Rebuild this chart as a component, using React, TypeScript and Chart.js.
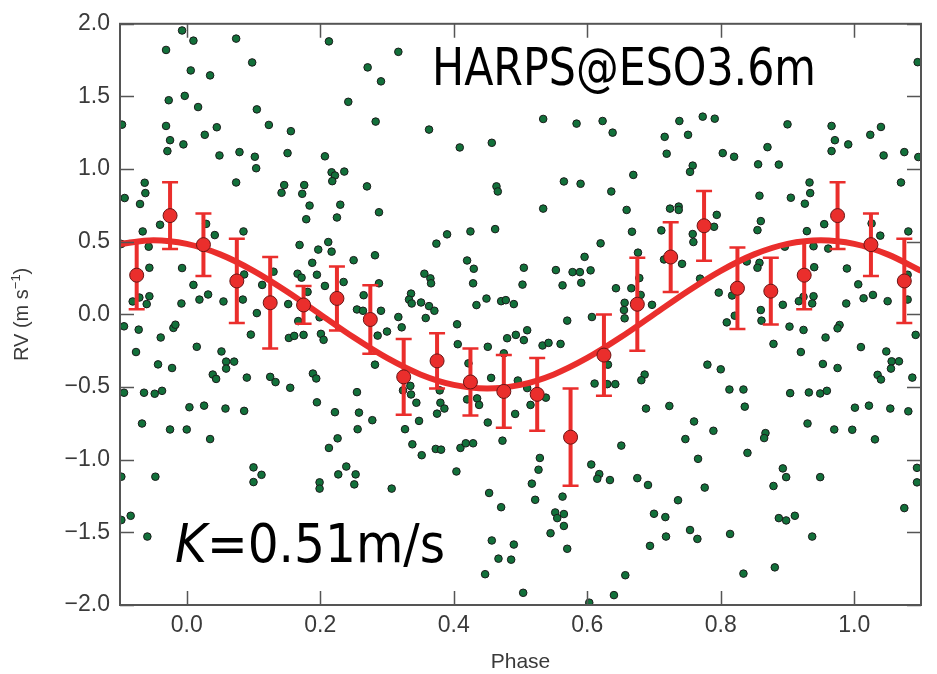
import React, { useEffect, useRef } from 'react';
import { Chart, registerables } from 'chart.js';

Chart.register(...registerables);

// ---- axis ticks ----
const X_TICKS = [0, 0.2, 0.4, 0.6, 0.8, 1.0];
const Y_TICKS = [-2, -1.5, -1, -0.5, 0, 0.5, 1, 1.5, 2];
const X_MIN = -0.1;
const X_MAX = 1.1;
const Y_MIN = -2;
const Y_MAX = 2;

// ---- binned RV (red points with error bars) ----
const BIN_PHASE = [-0.075, -0.025, 0.025, 0.075, 0.125, 0.175, 0.225, 0.275, 0.325, 0.375, 0.425, 0.475, 0.525, 0.575, 0.625, 0.675, 0.725, 0.775, 0.825, 0.875, 0.925, 0.975, 1.025, 1.075];
const BIN_RV = [0.27, 0.68, 0.48, 0.23, 0.08, 0.065, 0.11, -0.035, -0.43, -0.32, -0.465, -0.53, -0.55, -0.845, -0.28, 0.07, 0.395, 0.61, 0.18, 0.16, 0.27, 0.68, 0.48, 0.23];
const BIN_ERR = [0.235, 0.23, 0.215, 0.29, 0.315, 0.13, 0.22, 0.235, 0.26, 0.19, 0.23, 0.25, 0.25, 0.335, 0.28, 0.32, 0.24, 0.24, 0.28, 0.23, 0.235, 0.23, 0.215, 0.29];

// ---- fitted orbit curve ----
const CURVE_PHASE = [-0.1, -0.05, 0, 0.05, 0.1, 0.15, 0.2, 0.25, 0.3, 0.35, 0.4, 0.45, 0.5, 0.55, 0.6, 0.65, 0.7, 0.75, 0.8, 0.85, 0.9, 0.95, 1.0, 1.05, 1.1];
const CURVE_RV = [0.485, 0.51, 0.485, 0.413, 0.30, 0.158, 0.0, -0.158, -0.30, -0.413, -0.485, -0.51, -0.485, -0.413, -0.30, -0.158, 0.0, 0.158, 0.30, 0.413, 0.485, 0.51, 0.485, 0.413, 0.30];

// ---- individual observations [phase, RV] ----
const OBS: [number, number][] = [
  [-0.007,1.954],[0.010,1.884],[0.074,1.898],[0.213,1.879],[-0.031,1.820],[0.098,1.734],[0.271,1.700],[0.006,1.679],[0.035,1.645],[0.291,1.604],
  [-0.027,1.474],[-0.003,1.504],[0.017,1.427],[0.105,1.411],[0.242,1.463],[-0.097,1.306],[-0.031,1.297],[0.045,1.288],[0.123,1.304],[0.156,1.261],
  [0.283,1.327],[0.027,1.236],[-0.025,1.199],[-0.005,1.170],[-0.029,1.124],[0.049,1.094],[0.079,1.117],[0.102,1.085],[0.151,1.110],[0.207,1.088],
  [0.104,1.006],[0.217,0.978],[0.222,0.956],[0.236,0.983],[0.218,0.917],[0.074,0.908],[-0.063,0.906],[-0.062,0.835],[-0.093,0.801],[-0.070,0.760],
  [0.146,0.890],[0.142,0.837],[0.176,0.890],[0.173,0.830],[0.184,0.749],[0.230,0.755],[0.270,0.881],[0.225,0.667],[0.179,0.655],[0.288,0.703],
  [-0.040,0.617],[-0.066,0.571],[0.029,0.623],[0.042,0.546],[0.085,0.571],[0.169,0.478],[0.212,0.498],[0.197,0.446],[0.217,0.432],[0.250,0.373],
  [0.282,0.407],[-0.057,0.466],[-0.098,0.485],[-0.056,0.321],[-0.007,0.319],[0.188,0.355],[0.166,0.280],[0.172,0.253],[0.195,0.273],[0.235,0.223],
  [0.130,0.294],[0.086,0.275],[0.010,0.203],[0.113,0.203],[0.207,0.196],[0.288,0.214],[0.265,0.132],[-0.056,0.125],[-0.071,0.116],[-0.081,0.089],
  [-0.060,0.071],[-0.008,0.075],[0.019,0.102],[0.032,0.137],[0.055,0.089],[0.084,0.102],[0.152,0.071],[0.181,0.155],[0.255,0.034],[0.264,0.025],
  [0.291,0.025],
  [0.317,1.807],[0.363,1.272],[0.409,1.149],[0.457,1.181],[0.534,1.345],[0.584,1.313],[0.623,1.331],[0.638,1.251],[0.669,0.960],[0.565,0.915],
  [0.590,0.899],[0.636,0.846],[0.464,0.881],[0.466,0.846],[0.534,0.728],[0.659,0.719],[0.667,0.569],[0.390,0.551],[0.425,0.571],[0.462,0.587],
  [0.374,0.487],[0.620,0.489],[0.596,0.396],[0.420,0.371],[0.430,0.314],[0.505,0.321],[0.553,0.305],[0.578,0.291],[0.589,0.291],[0.605,0.303],
  [0.676,0.425],[0.678,0.250],[0.356,0.280],[0.365,0.248],[0.366,0.214],[0.429,0.214],[0.503,0.205],[0.563,0.200],[0.591,0.218],[0.643,0.180],
  [0.666,0.180],[0.680,0.134],[0.336,0.143],[0.333,0.102],[0.337,0.075],[0.351,0.082],[0.363,0.057],[0.371,0.025],[0.434,0.064],[0.449,0.109],
  [0.471,0.091],[0.478,0.098],[0.490,0.071],[0.656,0.080],[0.655,0.030],[0.697,0.066],
  [1.095,1.736],[0.773,1.361],[0.791,1.347],[0.738,1.331],[0.716,1.222],[0.751,1.236],[0.719,1.106],[0.803,1.110],[0.820,1.085],[0.870,1.151],
  [0.900,1.308],[0.966,1.297],[0.971,1.199],[0.991,1.170],[0.966,1.124],[1.024,1.236],[1.040,1.290],[1.044,1.094],[1.075,1.117],[1.096,1.083],
  [0.856,1.033],[0.887,1.031],[0.758,1.024],[0.754,0.981],[0.933,0.908],[0.934,0.835],[0.926,0.762],[0.905,0.803],[0.858,0.817],[1.070,0.908],
  [0.724,0.728],[0.737,0.742],[0.737,0.719],[0.794,0.685],[0.860,0.642],[0.855,0.580],[0.790,0.603],[0.955,0.621],[1.026,0.626],[1.081,0.571],
  [0.711,0.578],[0.758,0.553],[0.759,0.498],[0.929,0.573],[1.039,0.542],[0.939,0.469],[0.961,0.453],[0.896,0.466],[0.715,0.378],[0.742,0.348],
  [0.839,0.364],[0.858,0.355],[0.855,0.321],[0.940,0.325],[0.989,0.316],[1.080,0.273],[0.769,0.246],[1.006,0.207],[0.797,0.150],[0.817,0.130],
  [0.924,0.121],[0.939,0.125],[0.917,0.091],[0.937,0.075],[1.014,0.111],[1.028,0.134],[1.050,0.091],[1.080,0.102],[0.893,0.066],[0.860,0.030],
  [0.988,0.075],
  [0.105,0.009],[-0.094,-0.082],[-0.072,-0.105],[-0.020,-0.093],[-0.017,-0.071],[-0.039,-0.159],[0.096,-0.139],[0.153,-0.162],[0.161,-0.148],[0.175,-0.141],
  [0.167,-0.046],[0.201,-0.134],[0.205,-0.175],[0.199,-0.020],[-0.076,-0.259],[-0.043,-0.344],[-0.022,-0.369],[0.015,-0.223],[0.052,-0.255],[0.059,-0.325],
  [0.059,-0.373],[0.071,-0.325],[0.039,-0.414],[0.044,-0.444],[0.090,-0.435],[0.125,-0.430],[0.133,-0.466],[0.155,-0.505],[0.189,-0.407],[0.194,-0.441],
  [0.282,-0.346],[0.286,-0.146],[0.300,-0.118],[0.255,-0.535],[-0.094,-0.539],[-0.064,-0.539],[-0.048,-0.546],[-0.037,-0.526],[0.004,-0.639],[0.026,-0.628],
  [0.058,-0.648],[0.086,-0.664],[0.195,-0.605],[0.222,-0.673],[0.258,-0.676],[0.278,-0.728],[0.256,-0.790],[-0.067,-0.751],[-0.025,-0.792],[0.000,-0.792],
  [0.035,-0.858],[0.226,-0.853],[0.213,-0.919],[0.100,-1.053],[0.112,-1.104],[0.100,-1.154],[-0.098,-1.117],[-0.047,-1.117],[0.199,-1.156],[0.199,-1.199],
  [0.227,-1.101],[0.239,-1.047],[0.253,-1.101],[0.251,-1.170],[-0.098,-1.415],[-0.084,-1.386],[-0.059,-1.529],
  [0.317,-0.018],[0.358,-0.025],[0.322,-0.089],[0.405,-0.068],[0.570,-0.043],[0.607,-0.018],[0.656,-0.027],[0.510,-0.109],[0.480,-0.164],[0.493,-0.141],
  [0.505,-0.177],[0.533,-0.214],[0.542,-0.196],[0.560,-0.203],[0.406,-0.205],[0.451,-0.223],[0.475,-0.268],[0.422,-0.337],[0.631,-0.346],[0.335,-0.492],
  [0.324,-0.523],[0.336,-0.551],[0.379,-0.523],[0.344,-0.608],[0.380,-0.608],[0.386,-0.648],[0.375,-0.683],[0.420,-0.585],[0.435,-0.578],[0.438,-0.623],
  [0.456,-0.437],[0.496,-0.455],[0.510,-0.507],[0.515,-0.623],[0.538,-0.573],[0.492,-0.685],[0.451,-0.744],[0.348,-0.733],[0.327,-0.790],[0.611,-0.476],
  [0.630,-0.480],[0.642,-0.480],[0.686,-0.414],[0.681,-0.453],[0.688,-0.648],[0.473,-0.869],[0.338,-0.894],[0.352,-0.969],[0.373,-0.926],[0.381,-0.931],
  [0.410,-0.919],[0.418,-0.887],[0.429,-0.887],[0.651,-0.903],[0.529,-0.988],[0.527,-1.069],[0.404,-1.081],[0.517,-1.165],[0.606,-1.033],[0.618,-1.099],
  [0.615,-1.131],[0.634,-1.140],[0.675,-1.127],[0.691,-1.174],[0.307,-1.199],[0.453,-1.229],[0.471,-1.327],[0.522,-1.276],[0.563,-1.254],[0.552,-1.363],
  [0.555,-1.402],[0.565,-1.374],[0.565,-1.456],[0.545,-1.506],[0.700,-1.372],[0.457,-1.556],[0.490,-1.584],[0.467,-1.681],[0.486,-1.688],[0.570,-1.613],
  [0.694,-1.593],[0.447,-1.788],[0.657,-1.795],[0.504,-1.916],[0.640,-1.932],[0.603,-1.984],
  [0.821,-0.009],[0.809,-0.055],[0.861,-0.043],[0.903,-0.084],[0.924,-0.107],[0.978,-0.073],[0.975,-0.096],[0.957,-0.159],[1.092,-0.141],[0.879,-0.203],
  [0.920,-0.259],[1.010,-0.225],[1.048,-0.255],[1.056,-0.323],[1.067,-0.323],[1.055,-0.373],[0.780,-0.346],[0.800,-0.378],[0.953,-0.341],[0.975,-0.369],
  [1.035,-0.416],[1.040,-0.448],[1.087,-0.435],[0.813,-0.517],[0.834,-0.517],[0.904,-0.542],[0.932,-0.537],[0.949,-0.544],[0.959,-0.526],[0.723,-0.630],
  [0.836,-0.635],[1.001,-0.642],[1.022,-0.628],[1.054,-0.648],[1.081,-0.667],[0.760,-0.737],[0.789,-0.801],[0.747,-0.858],[0.867,-0.817],[0.865,-0.851],
  [0.930,-0.751],[0.970,-0.792],[0.997,-0.794],[1.031,-0.860],[0.766,-0.994],[0.840,-0.953],[0.893,-1.060],[0.898,-1.120],[0.879,-1.181],[0.949,-1.120],
  [1.094,-1.056],[1.094,-1.156],[0.776,-1.192],[0.736,-1.279],[0.717,-1.395],[0.887,-1.402],[0.898,-1.418],[0.911,-1.386],[1.075,-1.333],[0.754,-1.484],
  [0.765,-1.545],[0.718,-1.529],[0.814,-1.511],[0.937,-1.529],[0.881,-1.741],[0.834,-1.784],
];

const INSTRUMENT_LABEL = 'HARPS@ESO3.6m';
const K_SYMBOL = 'K';
const K_VALUE = '=0.51m/s';
const X_TITLE = 'Phase';

const RED = 'rgb(234,46,44)';
const GREEN = 'rgb(18,112,58)';
const AXIS_COLOR = '#555555';
const LABEL_COLOR = '#3a3a3a';
const BIG_FONT = '"DejaVu Sans Condensed", "DejaVu Sans", sans-serif';

const fmt = (v: number) => v.toFixed(1).replace('-', '\u2212');

function drawFitted(ctx: CanvasRenderingContext2D, parts: { text: string; italic?: boolean }[], x: number, baseline: number, size: number, width: number) {
  ctx.save();
  const fonts = parts.map((p) => `${p.italic ? 'italic ' : ''}${size}px ${BIG_FONT}`);
  let total = 0;
  parts.forEach((p, i) => { ctx.font = fonts[i]; total += ctx.measureText(p.text).width; });
  ctx.translate(x, baseline);
  ctx.scale(width / total, 1);
  ctx.fillStyle = '#000';
  ctx.textBaseline = 'alphabetic';
  ctx.textAlign = 'left';
  let cx = 0;
  parts.forEach((p, i) => { ctx.font = fonts[i]; ctx.fillText(p.text, cx, 0); cx += ctx.measureText(p.text).width; });
  ctx.restore();
}

const decorPlugin = {
  id: 'decor',
  beforeDatasetDraw(chart: any, args: any) {
    if (args.index !== 2) return;
    const { ctx, chartArea } = chart;
    const xs = chart.scales.x;
    const ys = chart.scales.y;
    ctx.save();
    ctx.beginPath();
    ctx.rect(chartArea.left, chartArea.top, chartArea.right - chartArea.left, chartArea.bottom - chartArea.top);
    ctx.clip();
    ctx.strokeStyle = RED;
    BIN_PHASE.forEach((p, i) => {
      const x = xs.getPixelForValue(p);
      const yTop = ys.getPixelForValue(BIN_RV[i] + BIN_ERR[i]);
      const yBot = ys.getPixelForValue(BIN_RV[i] - BIN_ERR[i]);
      ctx.lineWidth = 4;
      ctx.beginPath();
      ctx.moveTo(x, yTop);
      ctx.lineTo(x, yBot);
      ctx.stroke();
      ctx.lineWidth = 2.5;
      ctx.beginPath();
      ctx.moveTo(x - 8, yTop);
      ctx.lineTo(x + 8, yTop);
      ctx.moveTo(x - 8, yBot);
      ctx.lineTo(x + 8, yBot);
      ctx.stroke();
    });
    ctx.restore();
  },
  afterDraw(chart: any) {
    const { ctx, chartArea } = chart;
    const xs = chart.scales.x;
    const ys = chart.scales.y;
    const { left, right, top, bottom } = chartArea;
    ctx.save();
    // frame
    ctx.strokeStyle = AXIS_COLOR;
    ctx.lineWidth = 2;
    ctx.strokeRect(left, top, right - left, bottom - top);
    // inward ticks on all sides
    ctx.lineWidth = 1.5;
    const tl = 14;
    ctx.beginPath();
    X_TICKS.forEach((v) => {
      const x = Math.round(xs.getPixelForValue(v)) + 0.5;
      ctx.moveTo(x, bottom);
      ctx.lineTo(x, bottom - tl);
      ctx.moveTo(x, top);
      ctx.lineTo(x, top + tl);
    });
    Y_TICKS.forEach((v) => {
      const y = Math.round(ys.getPixelForValue(v)) + 0.5;
      ctx.moveTo(left, y);
      ctx.lineTo(left + tl, y);
      ctx.moveTo(right, y);
      ctx.lineTo(right - tl, y);
    });
    ctx.stroke();

    // axis titles
    ctx.fillStyle = LABEL_COLOR;
    ctx.font = '21px "Liberation Sans", Arial, sans-serif';
    ctx.textAlign = 'center';
    ctx.textBaseline = 'alphabetic';
    ctx.fillText(X_TITLE, (left + right) / 2, 668);

    // y title: RV (m s^-1)
    ctx.save();
    ctx.translate(28, (top + bottom) / 2);
    ctx.rotate(-Math.PI / 2);
    const mainFont = '20px "Liberation Sans", Arial, sans-serif';
    const supFont = '13px "Liberation Sans", Arial, sans-serif';
    const p1 = 'RV (m s';
    const p2 = '\u22121';
    const p3 = ')';
    ctx.font = mainFont;
    const w1 = ctx.measureText(p1).width;
    const w3 = ctx.measureText(p3).width;
    ctx.font = supFont;
    const w2 = ctx.measureText(p2).width;
    let cx = -(w1 + w2 + w3) / 2;
    ctx.textAlign = 'left';
    ctx.font = mainFont;
    ctx.fillText(p1, cx, 0);
    cx += w1;
    ctx.font = supFont;
    ctx.fillText(p2, cx, -8);
    cx += w2;
    ctx.font = mainFont;
    ctx.fillText(p3, cx, 0);
    ctx.restore();

    // annotations
    drawFitted(ctx, [{ text: INSTRUMENT_LABEL }], 432, 85, 51, 384);
    drawFitted(ctx, [{ text: K_SYMBOL, italic: true }, { text: K_VALUE }], 175, 562, 54, 270);
    ctx.restore();
  },
};

export default function App() {
  const ref = useRef<HTMLCanvasElement | null>(null);
  useEffect(() => {
    if (!ref.current) return;
    const tickFont = { family: '"Liberation Sans", Arial, sans-serif', size: 23 };
    const chart = new Chart(ref.current, {
      type: 'scatter',
      data: {
        datasets: [
          {
            label: 'obs',
            data: OBS.map(([x, y]) => ({ x, y })),
            pointRadius: 3.8,
            pointBackgroundColor: GREEN,
            pointBorderColor: '#1a1a1a',
            pointBorderWidth: 1,
            showLine: false,
            order: 3,
          },
          {
            label: 'fit',
            type: 'line',
            data: CURVE_PHASE.map((x, i) => ({ x, y: CURVE_RV[i] })),
            borderColor: RED,
            borderWidth: 6,
            pointRadius: 0,
            cubicInterpolationMode: 'monotone',
            fill: false,
            order: 2,
          } as any,
          {
            label: 'binned',
            data: BIN_PHASE.map((x, i) => ({ x, y: BIN_RV[i] })),
            pointRadius: 7,
            pointBackgroundColor: RED,
            pointBorderColor: '#6a1414',
            pointBorderWidth: 1,
            showLine: false,
            order: 1,
          },
        ],
      },
      options: {
        animation: false,
        responsive: false,
        maintainAspectRatio: false,
        events: [],
        layout: { padding: { top: 19, right: 16, left: 0, bottom: 0 } },
        plugins: { legend: { display: false }, tooltip: { enabled: false }, title: { display: false } },
        scales: {
          x: {
            type: 'linear',
            min: X_MIN,
            max: X_MAX,
            grid: { display: false, drawTicks: false },
            border: { display: false },
            afterBuildTicks: (s: any) => { s.ticks = X_TICKS.map((value) => ({ value })); },
            afterFit: (s: any) => { s.height = 69; },
            ticks: { font: tickFont, color: LABEL_COLOR, padding: 7, maxRotation: 0, autoSkip: false, callback: (v: any) => fmt(Number(v)) },
          },
          y: {
            type: 'linear',
            min: Y_MIN,
            max: Y_MAX,
            grid: { display: false, drawTicks: false },
            border: { display: false },
            afterBuildTicks: (s: any) => { s.ticks = Y_TICKS.map((value) => ({ value })); },
            afterFit: (s: any) => { s.width = 120; },
            ticks: { font: tickFont, color: LABEL_COLOR, padding: 10, autoSkip: false, callback: (v: any) => fmt(Number(v)) },
          },
        },
      },
      plugins: [decorPlugin],
    } as any);
    return () => chart.destroy();
  }, []);
  return (
    <div style={{ position: 'fixed', left: 0, top: 0, width: 937, height: 674, background: '#fff' }}>
      <canvas ref={ref} width={937} height={674} style={{ width: 937, height: 674, display: 'block' }} />
    </div>
  );
}
